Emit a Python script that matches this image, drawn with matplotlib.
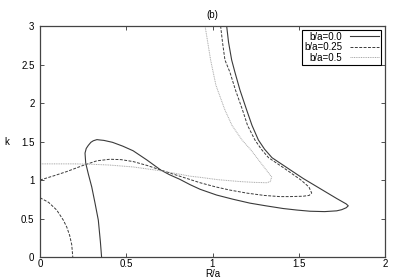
import matplotlib
matplotlib.use("Agg")
import matplotlib.pyplot as plt

plt.rcParams['font.family'] = ['Liberation Sans', 'DejaVu Sans']

# b/a = 0.0 (solid)
s0_x = [0.357, 0.350, 0.338, 0.319, 0.30, 0.28, 0.265, 0.261, 0.268, 0.28, 0.295, 0.309, 0.33, 0.348,
        0.37, 0.42, 0.48, 0.54, 0.62, 0.70, 0.75, 0.81, 0.87, 0.928, 1.024, 1.12, 1.217, 1.31, 1.41,
        1.49, 1.565, 1.65, 1.72, 1.749, 1.775, 1.787, 1.775, 1.72, 1.623, 1.526, 1.432, 1.345,
        1.302, 1.266, 1.229, 1.198, 1.159, 1.130, 1.111, 1.093, 1.082]
s0_y = [0.0, 0.2, 0.48, 0.7, 0.91, 1.08, 1.22, 1.35, 1.41, 1.45, 1.49, 1.51, 1.525, 1.52,
        1.515, 1.49, 1.44, 1.38, 1.26, 1.13, 1.07, 1.01, 0.94, 0.88, 0.805, 0.75, 0.70, 0.665, 0.63,
        0.61, 0.595, 0.59, 0.60, 0.615, 0.64, 0.665, 0.69, 0.76, 0.89, 1.02, 1.16, 1.29,
        1.40, 1.52, 1.71, 1.91, 2.17, 2.40, 2.56, 2.79, 3.0]

# b/a = 0.25 (dashed), two branches
s1a_x = [0.0, 0.05, 0.097, 0.135, 0.155, 0.172, 0.184, 0.19]
s1a_y = [0.77, 0.71, 0.61, 0.48, 0.39, 0.28, 0.16, 0.0]
s1b_x = [0.0, 0.08, 0.155, 0.25, 0.33, 0.406, 0.47, 0.54, 0.62, 0.70, 0.81, 0.928, 1.02, 1.1,
         1.2, 1.3, 1.39, 1.45, 1.526, 1.56, 1.575, 1.559, 1.513, 1.414, 1.325, 1.283, 1.246,
         1.203, 1.174, 1.133, 1.101, 1.072, 1.058, 1.047]
s1b_y = [1.0, 1.055, 1.11, 1.19, 1.25, 1.27, 1.265, 1.24, 1.19, 1.13, 1.05, 0.965, 0.91, 0.87,
         0.83, 0.80, 0.785, 0.785, 0.79, 0.80, 0.83, 0.91, 1.0, 1.156, 1.29, 1.40, 1.52,
         1.71, 1.91, 2.17, 2.40, 2.56, 2.79, 3.0]

# b/a = 0.5 (dotted)
s2_x = [0.0, 0.1, 0.2, 0.3, 0.4, 0.54, 0.62, 0.70, 0.80, 0.87, 0.93, 1.03, 1.16, 1.24, 1.314,
        1.335, 1.343, 1.281, 1.223, 1.171, 1.113, 1.072, 1.020, 0.989, 0.957]
s2_y = [1.21, 1.21, 1.21, 1.205, 1.195, 1.17, 1.145, 1.12, 1.08, 1.05, 1.035, 1.005, 0.98, 0.97,
        0.965, 0.98, 1.04, 1.22, 1.39, 1.52, 1.71, 1.91, 2.23, 2.56, 3.0]

labels = ['b/a=0.0', 'b/a=0.25', 'b/a=0.5']
xticks = [0, 0.5, 1, 1.5, 2]
yticks = [0, 0.5, 1, 1.5, 2, 2.5, 3]

fig = plt.figure(figsize=(4, 2.8), dpi=100)
ax = fig.add_axes([0.1, 0.082, 0.8625, 0.825])

c_dark = '#3a3a3a'
c_light = '#a8a8a8'
ax.plot(s0_x, s0_y, color=c_dark, lw=0.8, ls='-', label=labels[0])
ax.plot(s1a_x, s1a_y, color=c_dark, lw=0.7, ls=(0, (3, 1.5)), label=labels[1])
ax.plot(s1b_x, s1b_y, color=c_dark, lw=0.7, ls=(0, (3, 1.5)))
ax.plot(s2_x, s2_y, color=c_light, lw=0.7, ls=(0, (1, 0.8)), label=labels[2])

ax.set_xlim(0, 2)
ax.set_ylim(0, 3)
ax.set_xticks(xticks)
ax.set_xticklabels(['0', '0.5', '1', '1.5', '2'])
ax.set_yticks(yticks)
ax.set_yticklabels(['0', '0.5', '1', '1.5', '2', '2.5', '3'])
ax.tick_params(direction='in', length=3, width=0.6, labelsize=7, top=True, right=True,
               colors='#333333', labelcolor='black', pad=4)
ax.tick_params(axis='x', pad=1.5)
for sp in ax.spines.values():
    sp.set_color('#444444')
    sp.set_linewidth(0.9)

ax.set_xlabel('R/a', fontsize=7, va='bottom')
ax.xaxis.set_label_coords(0.5, -0.094)
ax.set_ylabel('k', fontsize=7, rotation=0, labelpad=10, va='center')
ax.set_title('(b)', fontsize=7, pad=6)

leg = ax.legend(loc='upper right', fontsize=7, markerfirst=False, fancybox=False,
                edgecolor='black', framealpha=1, handlelength=3.0, handletextpad=0.8,
                borderpad=0.2, labelspacing=0.05, borderaxespad=0.4)
leg.get_frame().set_linewidth(0.8)

fig.savefig('out.png', dpi=100)
